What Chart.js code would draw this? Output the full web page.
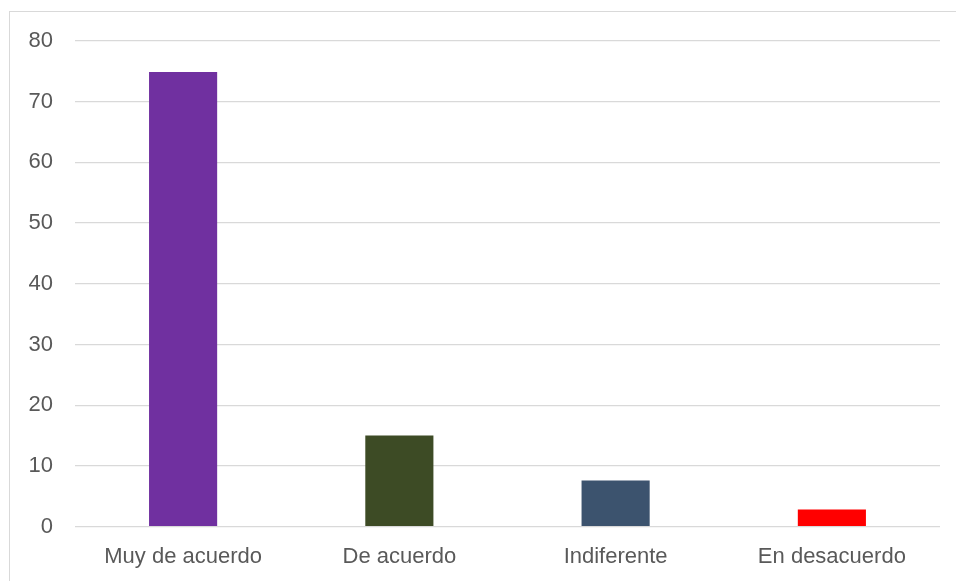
<!DOCTYPE html>
<html>
<head>
<meta charset="utf-8">
<script src="https://cdn.jsdelivr.net/npm/chart.js@4"></script>
<style>
	html, body { margin: 0; padding: 0; background: #fff; overflow: hidden; }
	#frame {
		position: absolute; left: 9px; top: 11px; width: 960px; height: 600px;
		border: 1px solid #d9d9d9; box-sizing: border-box;
	}
	#wrap { position: absolute; left: 0; top: 0; width: 956px; height: 595px; }
</style>
</head>
<body>
<div id="frame"></div>
<div id="wrap"><canvas id="chart"></canvas></div>
<script>
// categories and values
const categories = ['Muy de acuerdo', 'De acuerdo', 'Indiferente', 'En desacuerdo'];
const values = [74.9, 15.0, 7.6, 2.8];
const barColors = ['#7030A0', '#3D4B25', '#3C536E', '#FF0000'];

const textColor = '#595959';
const gridColor = '#d9d9d9';

new Chart(document.getElementById('chart'), {
	type: 'bar',
	data: {
		labels: categories,
		datasets: [{
			data: values,
			backgroundColor: barColors,
			borderWidth: 0,
			categoryPercentage: 1.0,
			barPercentage: 0.315
		}]
	},
	options: {
		responsive: true,
		maintainAspectRatio: false,
		animation: false,
		layout: {
			padding: { left: 6.5, right: 16, top: 41, bottom: 7 }
		},
		plugins: {
			legend: { display: false },
			tooltip: { enabled: false }
		},
		scales: {
			x: {
				grid: { display: false, drawTicks: false },
				border: { display: false },
				ticks: {
					color: textColor,
					padding: 17.5,
					font: { family: 'Liberation Sans, Arial, sans-serif', size: 22 }
				}
			},
			y: {
				min: 0,
				max: 80,
				ticks: {
					stepSize: 10,
					color: textColor,
					padding: 22,
					font: { family: 'Liberation Sans, Arial, sans-serif', size: 22 }
				},
				grid: { color: gridColor, lineWidth: 1.3, drawTicks: false },
				border: { display: false }
			}
		}
	}
});
</script>
</body>
</html>
